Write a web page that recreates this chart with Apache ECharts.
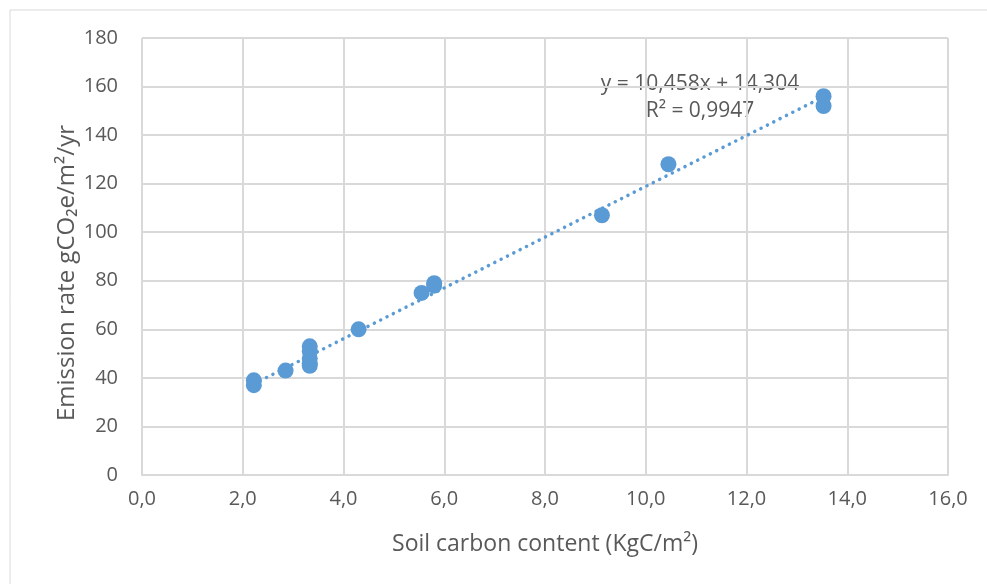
<!DOCTYPE html>
<html><head><meta charset="utf-8">
<script src="https://cdn.jsdelivr.net/npm/echarts@6/dist/echarts.min.js"></script>
<style>html,body{margin:0;padding:0;background:#fff}#c{width:987px;height:584px}</style>
</head><body><div id="c"></div>
<script>
const soilCarbon = [2.22, 2.22, 2.85, 3.33, 3.33, 3.33, 3.33, 3.33, 4.3, 5.55, 5.8, 5.8, 9.13, 10.45, 13.53, 13.53];
const emission   = [39,   37,   43,   53,   51,   48,   46,   45,   60,  75,   78,  79,  107,  128,   156,   152];
const slope = 10.458, intercept = 14.304;
const eqText = 'y = 10,458x + 14,304';
const r2Text = 'R² = 0,9947';
const xTitle = 'Soil carbon content (KgC/m²)';
const yTitle = 'Emission rate gCO₂e/m²/yr';

const pts = soilCarbon.map((x,i)=>[x, emission[i]]);
const xMin = Math.min(...soilCarbon), xMax = Math.max(...soilCarbon);
const trend = [[xMin, slope*xMin+intercept],[xMax, slope*xMax+intercept]];
const fmt = v => v.toFixed(1).replace('.', ',');
const font = '"Open Sans", "Liberation Sans", sans-serif';

const chart = echarts.init(document.getElementById('c'));
chart.setOption({
  animation:false,
  backgroundColor:'#fff',
  textStyle:{fontFamily:font},
  grid:{left:142,right:39,top:38,bottom:109},
  xAxis:{type:'value',min:0,max:16,interval:2,
    axisLine:{show:true,lineStyle:{color:'#d9d9d9',width:2}},axisTick:{show:false},
    splitLine:{show:true,lineStyle:{color:'#d9d9d9',width:2}},
    axisLabel:{color:'#595959',fontSize:20,margin:14,formatter:fmt,fontFamily:font},
    name:xTitle,nameLocation:'middle',nameGap:58,
    nameTextStyle:{color:'#595959',fontSize:23,fontFamily:font}},
  yAxis:{type:'value',min:0,max:180,interval:20,
    axisLine:{show:false},axisTick:{show:false},
    splitLine:{show:true,lineStyle:{color:'#d9d9d9',width:2}},
    axisLabel:{color:'#595959',fontSize:20,margin:24,fontFamily:font}},
  graphic:[
    {type:'rect',shape:{x:10,y:10,width:1000,height:600},style:{fill:'none',stroke:'#d9d9d9',lineWidth:1},z:-1},
    {type:'text',x:67,y:273,rotation:Math.PI/2,style:{text:yTitle,fill:'#595959',font:'24px '+font,textAlign:'center',textVerticalAlign:'middle'}},
    {type:'text',x:700,y:84,style:{text:eqText,fill:'#595959',font:'21px '+font,textAlign:'center',textVerticalAlign:'middle'}},
    {type:'text',x:700,y:111,style:{text:r2Text,fill:'#595959',font:'21px '+font,textAlign:'center',textVerticalAlign:'middle'}}
  ],
  series:[
    {type:'line',data:trend,symbol:'none',z:1,
      lineStyle:{color:'#5b9bd5',width:3.5,type:[0.1,7],cap:'round'}},
    {type:'scatter',data:pts,symbolSize:16,z:2,itemStyle:{color:'#5b9bd5',opacity:1}}
  ]
});
</script></body></html>
